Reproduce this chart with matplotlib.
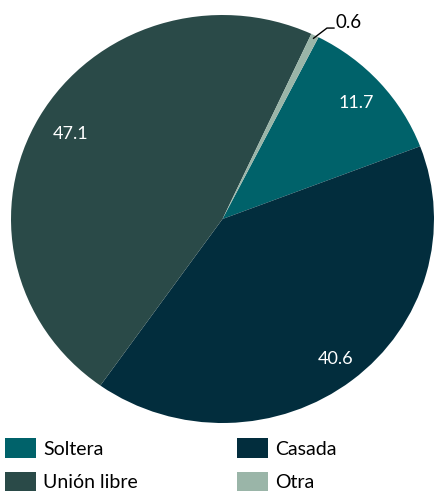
import numpy as np
import matplotlib.pyplot as plt
from matplotlib.patches import Patch

plt.rcParams['font.family'] = ['Lato', 'DejaVu Sans']

labels = ['Soltera', 'Casada', 'Unión libre', 'Otra']
values = [11.7, 40.6, 47.1, 0.6]
colors = ['#00626a', '#022d3d', '#2a4a48', '#9ab5a8']

fig = plt.figure(figsize=(4.35, 4.91), dpi=100)
ax = fig.add_axes([11/435, 68/491, 423/435, 408/491])
wedges, _ = ax.pie(values, colors=colors, startangle=63, counterclock=False,
                   radius=1, wedgeprops=dict(linewidth=0))
ax.set_aspect('auto')
ax.set_xlim(-1, 1)
ax.set_ylim(-1, 1)
ax.axis('off')

# value labels inside the large wedges
dist = {0: 0.85, 1: 0.87, 2: 0.83}
for i, w in enumerate(wedges[:3]):
    mid = np.deg2rad((w.theta1 + w.theta2) / 2)
    r = dist[i]
    ax.text(r * np.cos(mid), r * np.sin(mid), f'{values[i]}', color='white',
            fontsize=13, ha='center', va='center')

# small slice gets a leader line
w = wedges[3]
mid = np.deg2rad((w.theta1 + w.theta2) / 2)
x0, y0 = 0.985 * np.cos(mid), 0.985 * np.sin(mid)
ax.plot([x0, 0.494, 0.527], [y0, 0.936, 0.936], color='black', lw=1, clip_on=False)
ax.text(0.532, 0.965, f'{values[3]}', color='black', fontsize=13.5,
        ha='left', va='center')

# legend laid out row by row: Soltera, Casada / Unión libre, Otra
order = [0, 2, 1, 3]
handles = [Patch(facecolor=colors[i], edgecolor='none') for i in order]
fig.legend(handles, [labels[i] for i in order], loc='upper left',
           bbox_to_anchor=(5/435, 1 - 438/491), ncol=2,
           frameon=False, fontsize=14, handlelength=1.6, handleheight=1.2,
           handletextpad=0.36, columnspacing=5.1, labelspacing=0.72,
           borderpad=0, borderaxespad=0)

fig.savefig('out.png', dpi=100)
